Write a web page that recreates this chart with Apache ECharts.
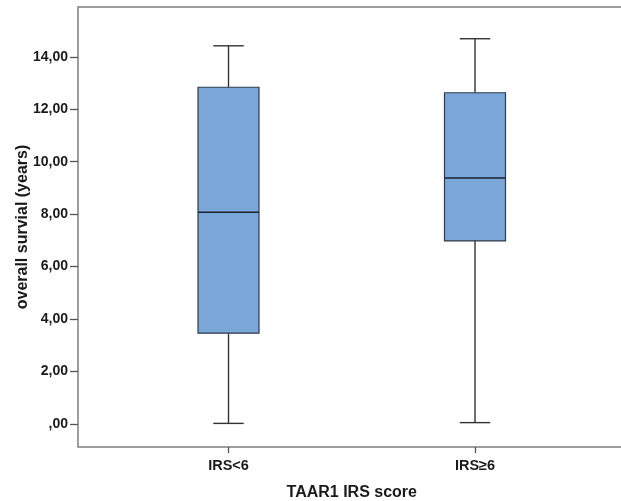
<!DOCTYPE html>
<html>
<head>
<meta charset="utf-8">
<script src="https://cdn.jsdelivr.net/npm/echarts@6/dist/echarts.min.js"></script>
<style>
  html, body { margin: 0; padding: 0; background: #fff; }
  #chart { width: 621px; height: 501px; }
</style>
</head>
<body>
<div id="chart"></div>
<script>
const categories = ["IRS<6", "IRS\u22656"];
const lowerWhisker = [0.02, 0.05];
const q1 = [3.46, 6.98];
const median = [8.07, 9.38];
const q3 = [12.84, 12.63];
const upperWhisker = [14.42, 14.69];
const yTicks = [0, 2, 4, 6, 8, 10, 12, 14];

const fmtTick = (v)=>{
    if (v === 0) return ",00";
    return v.toFixed(2).replace(".", ",");
};

// box, median line, whiskers with half-width caps (SPSS style)
const renderBox = (params, api)=>{
    const x = api.value(0);
    const low = api.coord([x, api.value(1)]);
    const q1p = api.coord([x, api.value(2)]);
    const med = api.coord([x, api.value(3)]);
    const q3p = api.coord([x, api.value(4)]);
    const high = api.coord([x, api.value(5)]);
    const band = api.size([1, 0])[0];
    const bw = band * 0.2475;
    const cw = bw / 2;
    const cx = low[0];
    const wStyle = { stroke: "#333", lineWidth: 1.4 };
    return {
        type: "group",
        children: [
            { type: "line", shape: { x1: cx, y1: high[1], x2: cx, y2: q3p[1] }, style: wStyle },
            { type: "line", shape: { x1: cx, y1: q1p[1], x2: cx, y2: low[1] }, style: wStyle },
            { type: "line", shape: { x1: cx - cw / 2, y1: high[1], x2: cx + cw / 2, y2: high[1] }, style: wStyle },
            { type: "line", shape: { x1: cx - cw / 2, y1: low[1], x2: cx + cw / 2, y2: low[1] }, style: wStyle },
            { type: "rect", shape: { x: cx - bw / 2, y: q3p[1], width: bw, height: q1p[1] - q3p[1] },
              style: { fill: "#7aa7d8", stroke: "#2f3b4a", lineWidth: 1.2 } },
            { type: "line", shape: { x1: cx - bw / 2, y1: med[1], x2: cx + bw / 2, y2: med[1] },
              style: { stroke: "#1a2230", lineWidth: 1.6 } }
        ]
    };
};

const boxData = categories.map((c, i)=>[i, lowerWhisker[i], q1[i], median[i], q3[i], upperWhisker[i]]);

const txt = { fontFamily: "Liberation Sans", fontWeight: "bold", color: "#1a1a1a" };

const option = {
    backgroundColor: "#fff",
    animation: false,
    grid: [
        // frame
        { left: 78, top: 7, width: 547.5, height: 440, show: true, borderColor: "#7f7f7f", borderWidth: 1.5, outerBoundsMode: "none" },
        // boxes
        { left: 105.25, top: 7, width: 493, height: 440, outerBoundsMode: "none" },
        // y tick labels (0..14)
        { left: 78, top: 56.8, width: 547.5, height: 367.1, outerBoundsMode: "none" }
    ],
    xAxis: [
        { gridIndex: 0, type: "value", show: false },
        {
            gridIndex: 1, type: "category", data: categories,
            axisLine: { show: false, onZero: false },
            axisTick: { show: true, alignWithLabel: true, length: 6, lineStyle: { color: "#555", width: 1.3 } },
            axisLabel: Object.assign({ fontSize: 14.5, margin: 11 }, txt),
            name: "TAAR1 IRS score", nameLocation: "middle", nameGap: 38,
            nameTextStyle: Object.assign({ fontSize: 16 }, txt)
        },
        { gridIndex: 2, type: "value", show: false }
    ],
    yAxis: [
        { gridIndex: 0, type: "value", show: false },
        {
            gridIndex: 1, type: "value", min: -0.88, max: 15.9, offset: 27.25,
            axisLine: { show: false }, axisTick: { show: false }, axisLabel: { show: false },
            splitLine: { show: false },
            name: "overall survial (years)", nameLocation: "middle", nameGap: 47,
            nameTextStyle: Object.assign({ fontSize: 16 }, txt)
        },
        {
            gridIndex: 2, type: "value", min: yTicks[0], max: yTicks[yTicks.length - 1], interval: 2,
            axisLine: { show: false },
            axisTick: { show: true, length: 8, lineStyle: { color: "#555", width: 1.3 } },
            axisLabel: Object.assign({ fontSize: 14, margin: 10, formatter: fmtTick }, txt),
            splitLine: { show: false }
        }
    ],
    series: [{
        type: "custom",
        xAxisIndex: 1,
        yAxisIndex: 1,
        renderItem: renderBox,
        data: boxData
    }]
};

window.addEventListener("load", ()=>{
    const chart = echarts.init(document.getElementById("chart"));
    chart.setOption(option);
});
</script>
</body>
</html>
